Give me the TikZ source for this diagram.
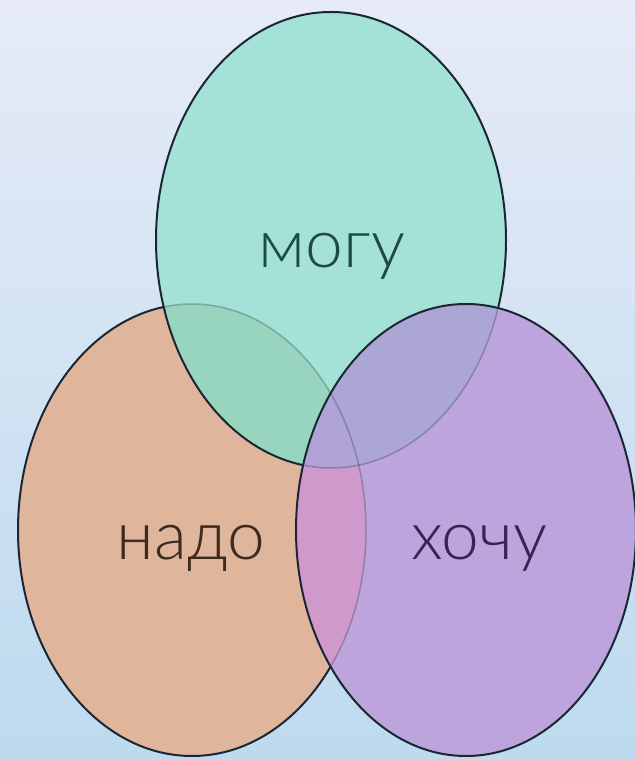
\documentclass[tikz,border=0pt]{standalone}
\usepackage{fontspec}
\setmainfont{Lato Light}
\definecolor{bgtop}{HTML}{E6EBF7}
\definecolor{bgbot}{HTML}{BDDAEE}
\definecolor{edgecol}{HTML}{1B2634}
\definecolor{ocol}{HTML}{DFB69C}
\definecolor{gcol}{HTML}{A4E1D6}
\definecolor{pcol}{HTML}{BDA4DC}
\definecolor{ogcol}{HTML}{98D5BE}
\definecolor{gpcol}{HTML}{ABA6D4}
\definecolor{opcol}{HTML}{CF9ACB}
\definecolor{ogpcol}{HTML}{B0A4D6}
\definecolor{tg}{HTML}{1E4A40}
\definecolor{to}{HTML}{3E2A1F}
\definecolor{tp}{HTML}{3A2350}
\def\Opath{(192,229) ellipse [x radius=174bp, y radius=226bp]}
\def\Gpath{(331,519) ellipse [x radius=175bp, y radius=228bp]}
\def\Ppath{(466,229) ellipse [x radius=170bp, y radius=226bp]}
\begin{document}
\begin{tikzpicture}[x=1bp,y=1bp,
  edge/.style={draw=edgecol,line width=2bp},
  faint/.style={draw=edgecol,line width=1.5bp,draw opacity=0.28},
  label/.style={anchor=base,inner sep=0pt,font=\fontsize{68}{68}\selectfont}]
\useasboundingbox (0,0) rectangle (635,759);
\shade[top color=bgtop,bottom color=bgbot] (0,0) rectangle (635,759);
% orange
\fill[ocol] \Opath;
\draw[edge] \Opath;
% green
\fill[gcol] \Gpath;
\begin{scope}
  \clip \Gpath;
  \fill[ogcol] \Opath;
  \draw[faint] \Opath;
\end{scope}
\draw[edge] \Gpath;
% purple
\fill[pcol] \Ppath;
\begin{scope}
  \clip \Ppath;
  \fill[opcol] \Opath;
  \fill[gpcol] \Gpath;
  \begin{scope}
    \clip \Gpath;
    \fill[ogpcol] \Opath;
  \end{scope}
  \draw[faint] \Opath;
  \draw[faint] \Gpath;
\end{scope}
\draw[edge] \Ppath;
% labels
\node[label,text=tg] (mogu) at (332,491) {могу};
\node[label,text=to] (nado) at (191,199) {надо};
\node[label,text=tp] (hochu) at (479,199) {хочу};
\end{tikzpicture}
\end{document}
